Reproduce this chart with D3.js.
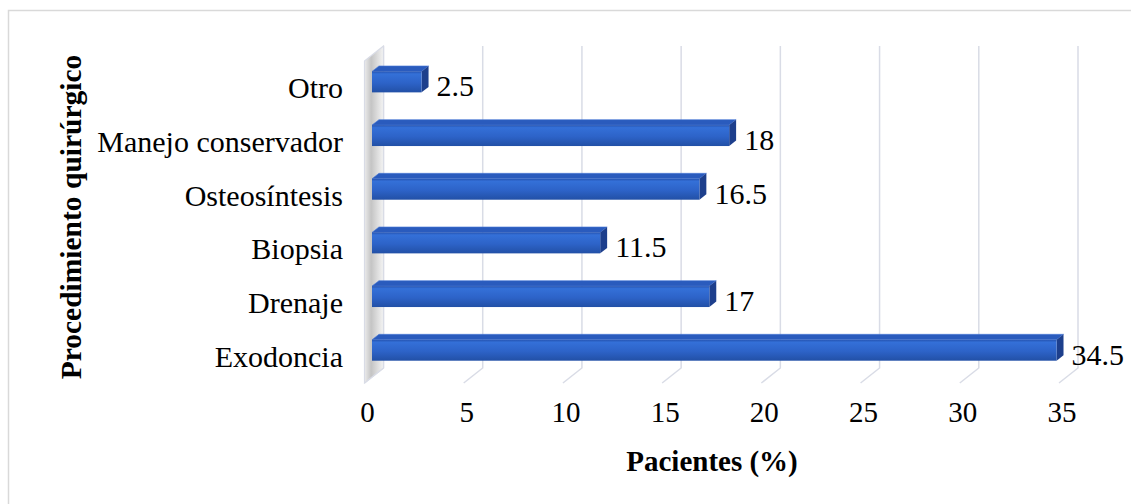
<!DOCTYPE html>
<html>
<head>
<meta charset="utf-8">
<style>
	body { margin: 0; background: white; }
</style>
</head>
<body>
<svg width="1131" height="504"></svg>
<script src="https://d3js.org/d3.v7.min.js"></script>
<script>

// data, bottom to top as in the picture
var categories = ['Exodoncia', 'Drenaje', 'Biopsia', 'Osteosíntesis', 'Manejo conservador', 'Otro']
var values = [34.5, 17, 11.5, 16.5, 18, 2.5]
var valueLabels = ['34.5', '17', '11.5', '16.5', '18', '2.5']
var ticks = [0, 5, 10, 15, 20, 25, 30, 35]
var xTitle = 'Pacientes (%)'
var yTitle = 'Procedimiento quirúrgico'

var font = "'Liberation Serif', 'Times New Roman', serif",
	dx = 19,     // depth offset of the back wall, to the right
	dy = 15,     // and upwards
	d1 = 0.395,  // bar front face depth
	d2 = 0.76,   // bar back face depth
	grid = '#d9dce6'

var svg = d3.select('svg')

// front plane scales
var x = d3.scaleLinear().domain([0, 35]).range([364.5, 1059])
var y = d3.scaleBand().domain(categories).range([383, 61]).paddingInner(0.61).paddingOuter(0.305)

// point in the front plane pushed back by depth d
function p(v, yf, d) {
	return [x(v) + d * dx, yf - d * dy]
}

var defs = svg.append('defs')

var gFront = defs.append('linearGradient').attr('id', 'front').attr('x1', 0).attr('y1', 0).attr('x2', 0).attr('y2', 1)
gFront.append('stop').attr('offset', '0%').attr('stop-color', '#2553b0')
gFront.append('stop').attr('offset', '12%').attr('stop-color', '#3470d8')
gFront.append('stop').attr('offset', '55%').attr('stop-color', '#2d63c8')
gFront.append('stop').attr('offset', '100%').attr('stop-color', '#2250a6')

var gWall = defs.append('linearGradient').attr('id', 'wall').attr('x1', 0).attr('y1', 0).attr('x2', 1).attr('y2', 0)
gWall.append('stop').attr('offset', '0%').attr('stop-color', '#ececec')
gWall.append('stop').attr('offset', '35%').attr('stop-color', '#c4c4c4')
gWall.append('stop').attr('offset', '100%').attr('stop-color', '#f4f4f4')

// chart border
svg.append('rect')
	.attr('x', 8.5).attr('y', 10.5)
	.attr('width', 1140).attr('height', 520)
	.style('fill', 'white')
	.style('stroke', '#d9d9d9')
	.style('stroke-width', 1.5)

var yTop = y.range()[1],
	yBottom = y.range()[0]

var line = d3.line()

// gridlines: up the back wall, then across the floor
ticks.forEach(function(t) {
	svg.append('path')
		.attr('d', line([p(t, yTop, 1), p(t, yBottom, 1), p(t, yBottom, 0)]))
		.style('fill', 'none')
		.style('stroke', grid)
		.style('stroke-width', 1.5)
})

// left side wall
svg.append('path')
	.attr('d', line([p(0, yTop, 0), p(0, yTop, 1), p(0, yBottom, 1), p(0, yBottom, 0)]) + 'Z')
	.style('fill', 'url(#wall)')
	.style('stroke', grid)
	.style('stroke-width', 1.2)

function label(sel, size) {
	return sel.style('font-family', font).style('font-size', size + 'px').style('fill', 'black')
}

// bars
categories.forEach(function(c, i) {
	var v = values[i],
		yt = y(c),
		yb = yt + y.bandwidth()

	svg.append('path')
		.attr('d', line([p(0, yt, d1), p(0, yt, d2), p(v, yt, d2), p(v, yt, d1)]) + 'Z')
		.style('fill', '#2a5bbd')
		.style('stroke', '#4a7ad6')
		.style('stroke-width', 0.6)

	svg.append('path')
		.attr('d', line([p(v, yt, d1), p(v, yt, d2), p(v, yb, d2), p(v, yb, d1)]) + 'Z')
		.style('fill', '#1d3f8c')

	var a = p(0, yt, d1), b = p(v, yb, d1)
	svg.append('rect')
		.attr('x', a[0]).attr('y', a[1])
		.attr('width', b[0] - a[0]).attr('height', b[1] - a[1])
		.style('fill', 'url(#front)')

	// value label
	label(svg.append('text'), 30)
		.attr('x', b[0] + 15)
		.attr('y', (a[1] + b[1]) / 2 + 4)
		.attr('dominant-baseline', 'central')
		.text(valueLabels[i])

	// category label
	label(svg.append('text'), 30)
		.attr('x', 343)
		.attr('y', yt + y.bandwidth() / 2)
		.attr('text-anchor', 'end')
		.attr('dominant-baseline', 'central')
		.text(c)
})

// tick labels
label(svg.selectAll('.tick')
	.data(ticks)
	.enter().append('text'), 29)
	.attr('class', 'tick')
	.attr('x', function(d) { return x(d) + 3 })
	.attr('y', 412)
	.attr('text-anchor', 'middle')
	.attr('dominant-baseline', 'central')
	.text(function(d) { return d })

// axis titles
label(svg.append('text'), 29)
	.attr('x', 712)
	.attr('y', 461)
	.attr('text-anchor', 'middle')
	.attr('dominant-baseline', 'central')
	.style('font-weight', 'bold')
	.text(xTitle)

label(svg.append('text'), 29.5)
	.attr('transform', 'translate(71,217) rotate(-90)')
	.attr('text-anchor', 'middle')
	.attr('dominant-baseline', 'central')
	.style('font-weight', 'bold')
	.text(yTitle)

</script>
</body>
</html>
